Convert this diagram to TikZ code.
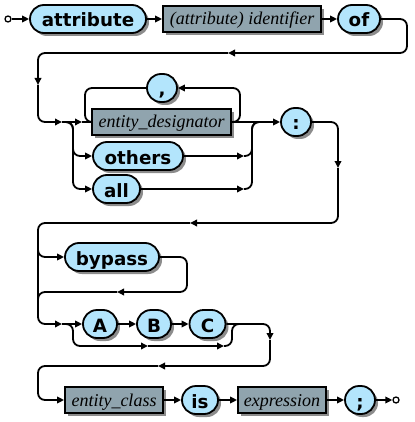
\documentclass[tikz,border=0pt]{standalone}
\usepackage{fontspec}
\setmainfont{Liberation Serif}
\newfontfamily\tfont{DejaVu Sans}
\usetikzlibrary{arrows.meta,shadows}
\definecolor{termfill}{RGB}{179,229,252}
\definecolor{ntfill}{RGB}{144,164,174}
\begin{document}
\begin{tikzpicture}[x=1pt,y=-1pt,
  line width=1.8pt,
  >={Triangle[length=7pt,width=6.5pt]},
  rc/.style={rounded corners=7pt},
  shad/.style={drop shadow={shadow xshift=3pt,shadow yshift=-3pt,fill=black!45,opacity=1}},
  term/.style={draw,fill=termfill,rounded corners=14pt,minimum height=28pt,inner sep=0pt,
    font=\tfont\bfseries\fontsize{18.3}{20}\selectfont,text height=16pt,text depth=0pt,shad},
  nterm/.style={draw,fill=ntfill,minimum height=26pt,inner sep=0pt,
    font=\itshape\fontsize{18}{20}\selectfont,text height=12pt,text depth=0pt,shad},
  dot/.style={circle,draw,fill=white,inner sep=0pt,minimum size=6pt,line width=1.3pt}
]
\useasboundingbox (0,0) rectangle (414,422);
% nodes
\node[dot] (start) at (8,19) {};
\node[term,minimum width=116pt] (attr) at (88,19) {attribute};
\node[nterm,minimum width=158pt] (ident) at (242,19) {(attribute) identifier};
\node[term,minimum width=42pt] (of) at (359,19) {of};
\node[term,minimum width=30pt] (comma) at (162,88) {,};
\node[nterm,minimum width=139pt] (ent) at (161.5,122) {entity\_designator};
\node[term,minimum width=30pt] (colon) at (296,122) {:};
\node[term,minimum width=90pt] (others) at (138,156) {others};
\node[term,minimum width=47pt] (all) at (116.5,189) {all};
\node[term,minimum width=94pt] (bypass) at (112,257) {bypass};
\node[term,minimum width=34pt] (A) at (100,324) {A};
\node[term,minimum width=34pt] (B) at (154,324) {B};
\node[term,minimum width=36pt] (C) at (207.5,324) {C};
\node[nterm,minimum width=98pt] (entc) at (114,400) {entity\_class};
\node[term,minimum width=36pt] (is) at (200,400) {is};
\node[nterm,minimum width=88pt] (expr) at (282,400) {expression};
\node[term,minimum width=30pt] (semi) at (360,400) {;};
\node[dot] (end) at (396,400) {};
% coordinates
\coordinate (w1a) at (228,53);
\coordinate (w1b) at (38,85);
\coordinate (r2a) at (62,122);
\coordinate (r2b) at (82,122);
\coordinate (b1) at (66,122);
\coordinate (o1) at (244,156);
\coordinate (a1) at (244,189);
\coordinate (c1) at (338,168);
\coordinate (c2) at (190,223);
\coordinate (c3) at (62,324);
\coordinate (bp0) at (38,240);
\coordinate (bp1) at (117,292);
\coordinate (bp2) at (38,305);
\coordinate (b2) at (66,324);
\coordinate (s1) at (148,346);
\coordinate (s2) at (224,346);
\coordinate (s3) at (242,324);
\coordinate (d1) at (270,340);
\coordinate (d2) at (158,366);
% connectors
\draw[->] (start) -- (attr);
\draw[->] (attr) -- (ident);
\draw[->] (ident) -- (of);
\draw[->,rc] (of.east) -- (407,19) -- (407,53) -- (w1a);
\draw[->,rc] (w1a) -- (38,53) -- (w1b);
\draw[->,rc] (w1b) -- (38,122) -- (r2a);
\draw[->] (r2a) -- (r2b);
\draw (r2b) -- (ent.west);
\draw[->,rc] (ent.east) -- (240,122) -- (240,88) -- (comma.east);
\draw[rc] (comma.west) -- (85,88) -- (85,122) -- (ent.west);
\draw[->,rc] (b1) -- (73,122) -- (73,156) -- (others.west);
\draw[->,rc] (b1) -- (73,122) -- (73,189) -- (all.west);
\draw[->] (others) -- (o1);
\draw[rc] (o1) -- (252,156) -- (252,122) -- (262,122);
\draw[->] (all) -- (a1);
\draw[rc] (a1) -- (252,189) -- (252,122) -- (262,122);
\draw[->] (ent.east) -- (colon.west);
\draw[->,rc] (colon.east) -- (338,122) -- (c1);
\draw[->,rc] (c1) -- (338,223) -- (c2);
\draw[->,rc] (c2) -- (38,223) -- (38,324) -- (c3);
\draw[->,rc] (bp0) -- (38,257) -- (bypass.west);
\draw[->,rc] (bypass.east) -- (187,257) -- (187,292) -- (bp1);
\draw[rc] (bp1) -- (38,292) -- (bp2);
\draw[->] (c3) -- (A);
\draw[->] (A) -- (B);
\draw[->] (B) -- (C);
\draw[->,rc] (b2) -- (73,324) -- (73,346) -- (s1);
\draw[->] (s1) -- (s2);
\draw[rc] (s2) -- (232,346) -- (232,324) -- (s3);
\draw[->,rc] (C.east) -- (270,324) -- (d1);
\draw[->,rc] (d1) -- (270,366) -- (d2);
\draw[->,rc] (d2) -- (38,366) -- (38,400) -- (entc.west);
\draw[->] (entc) -- (is);
\draw[->] (is) -- (expr);
\draw[->] (expr) -- (semi);
\draw[->] (semi) -- (end);
\end{tikzpicture}
\end{document}
